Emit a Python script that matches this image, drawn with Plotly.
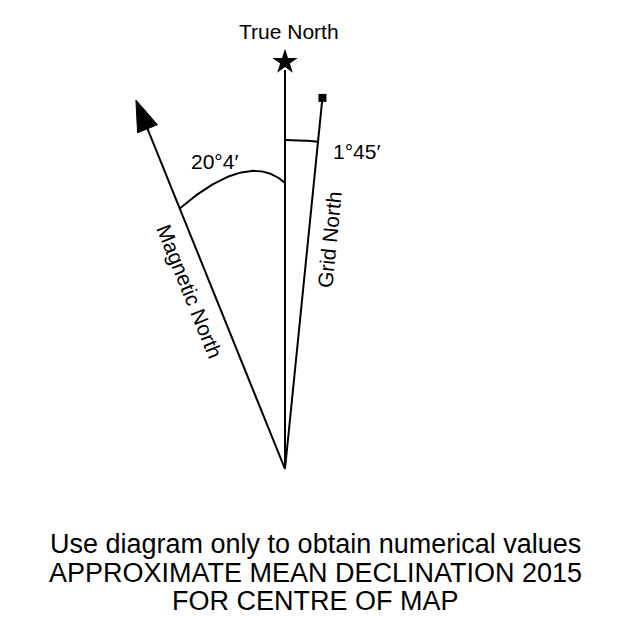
import numpy as np
import plotly.graph_objects as go

# ---- data ----
line_names = ["True North", "Grid North", "Magnetic North"]
line_angles_deg = [0.0, 5.76, -22.0]      # drawn angle from true north (clockwise positive)
line_lengths = [399.0, 371.0, 398.0]
declination_labels = ["20°4′", "1°45′"]
caption_lines = ["Use diagram only to obtain numerical values",
                 "APPROXIMATE MEAN DECLINATION 2015",
                 "FOR CENTRE OF MAP"]

FONT = "Liberation Sans, Arial, sans-serif"
PAGE_OFF = 8                     # default body margin of the page
W, H = 630 - PAGE_OFF, 619 - PAGE_OFF
ox, oy = 285 - PAGE_OFF, 469 - PAGE_OFF   # origin pixel inside the figure


def pt(angle_deg, r):
    a = np.radians(angle_deg)
    return r * np.sin(a), r * np.cos(a)


fig = go.Figure()

for name, ang, L in zip(line_names, line_angles_deg, line_lengths):
    x1, y1 = pt(ang, L if name != "Magnetic North" else L - 30)
    fig.add_trace(go.Scatter(x=[0, x1], y=[0, y1], mode="lines",
                             line=dict(color="black", width=2), hoverinfo="skip"))

# star on true north
sx, sy = pt(line_angles_deg[0], line_lengths[0] + 8)
fig.add_trace(go.Scatter(x=[sx], y=[sy], mode="markers",
                         marker=dict(symbol="star", size=19, color="black"), hoverinfo="skip"))
# square on grid north
gx, gy = pt(line_angles_deg[1], line_lengths[1] + 2)
fig.add_trace(go.Scatter(x=[gx], y=[gy], mode="markers",
                         marker=dict(symbol="square", size=8, color="black"), hoverinfo="skip"))

# arrowhead on magnetic north
ma = line_angles_deg[2]
tip = np.array(pt(ma, line_lengths[2]))
u = tip / np.linalg.norm(tip)
perp = np.array([u[1], -u[0]])
base = tip - 31 * u
c1 = base + 10.7 * perp
c2 = base - 10.7 * perp
fig.add_trace(go.Scatter(x=[tip[0], c1[0], c2[0], tip[0]], y=[tip[1], c1[1], c2[1], tip[1]],
                         mode="lines", fill="toself", fillcolor="black",
                         line=dict(color="black", width=1), hoverinfo="skip"))

# arc magnetic -> true (bulged)
A = np.array(pt(ma, 281))
B = np.array(pt(0, 286))
C = np.array([-36.5, 319.5])
t = np.linspace(0, 1, 60)
arc = np.outer((1 - t) ** 2, A) + np.outer(2 * (1 - t) * t, C) + np.outer(t ** 2, B)
fig.add_trace(go.Scatter(x=arc[:, 0], y=arc[:, 1], mode="lines",
                         line=dict(color="black", width=2), hoverinfo="skip"))

# arc true -> grid
angs = np.linspace(0, line_angles_deg[1], 20)
r = 329
fig.add_trace(go.Scatter(x=r * np.sin(np.radians(angs)), y=r * np.cos(np.radians(angs)),
                         mode="lines", line=dict(color="black", width=2), hoverinfo="skip"))

ann = []
ann.append(dict(x=4, y=438, text="True North", font=dict(size=21)))
ann.append(dict(x=-71, y=308, text=declination_labels[0], font=dict(size=21)))
ann.append(dict(x=71, y=318, text=declination_labels[1], font=dict(size=21)))
ann.append(dict(x=-95, y=178, text="Magnetic North", font=dict(size=21),
                textangle=90 + line_angles_deg[2]))
ann.append(dict(x=44, y=229, text="Grid North", font=dict(size=21),
                textangle=-(90 - line_angles_deg[1])))
for i, (txt, yy) in enumerate(zip(caption_lines, [-75, -104, -132])):
    ann.append(dict(x=30, y=yy, text=txt, font=dict(size=27)))
for a in ann:
    a.update(showarrow=False, xref="x", yref="y")
    a["font"].update(family=FONT, color="black")

fig.update_layout(
    width=W, height=H, margin=dict(l=0, r=0, t=0, b=0),
    paper_bgcolor="white", plot_bgcolor="white", showlegend=False,
    annotations=ann,
    xaxis=dict(range=[-ox, W - ox], visible=False, fixedrange=True),
    yaxis=dict(range=[oy - H, oy], visible=False, fixedrange=True),
)
fig.write_html("out.html")
